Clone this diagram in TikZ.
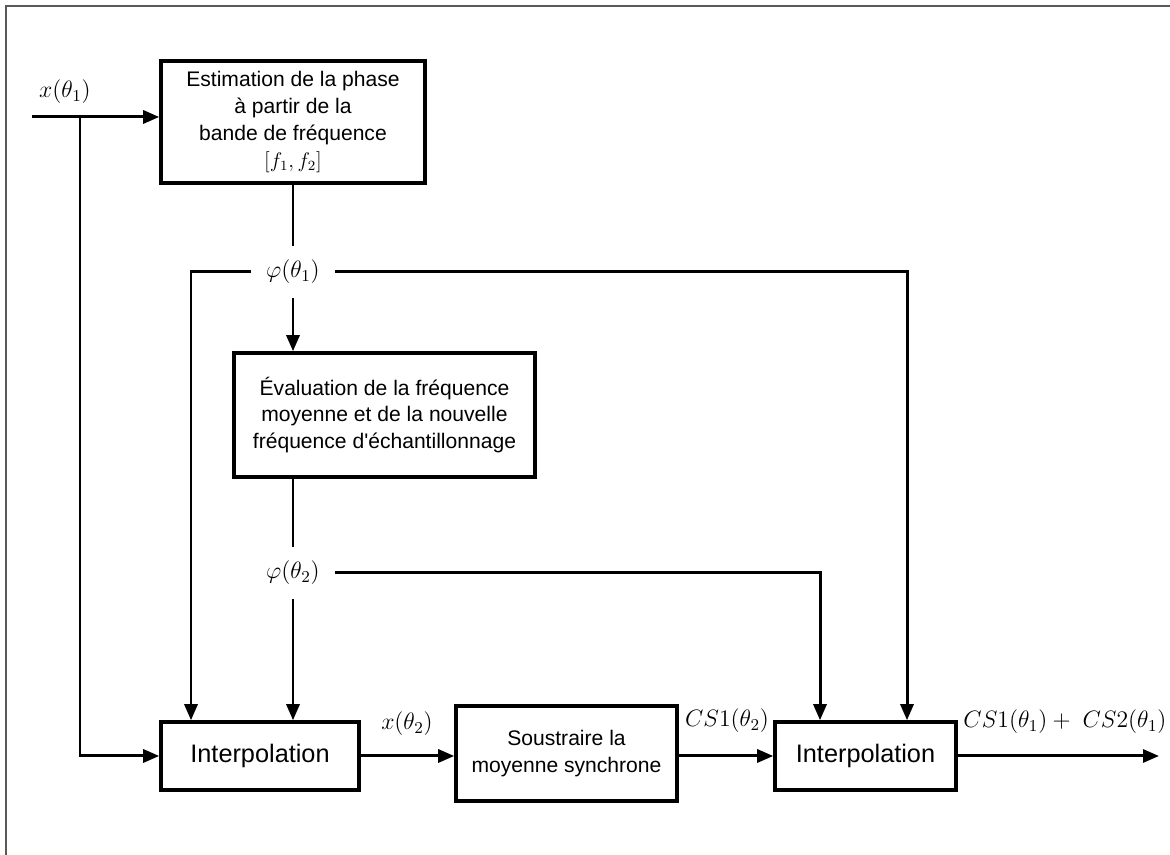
\documentclass[tikz,border=0pt]{standalone}
\usepackage{fix-cm}
\usepackage[no-math]{fontspec}
\setmainfont{Liberation Sans}
\usetikzlibrary{arrows.meta}
\begin{document}
\begin{tikzpicture}[x=1cm, y=1cm,
    block/.style={draw, line width=2pt, align=center, inner sep=0pt, font=\fontsize{12}{15.3}\selectfont},
    interp/.style={block, font=\fontsize{14.4}{17}\selectfont},
    sig/.style={inner sep=0pt, font=\fontsize{13.5}{16}\selectfont},
    phase/.style={inner xsep=0.3cm, inner ysep=0.28cm, font=\fontsize{13.5}{16}\selectfont},
    wire/.style={line width=1.7pt},
    arr/.style={wire, -{Triangle[length=3.2mm, width=2.6mm]}}]
    \useasboundingbox (0,0) rectangle (23.4,17.1);
    \draw[gray!70!black, line width=0.6pt] (0.12,0) -- (0.12,16.98) -- (23.4,16.98);
    \node[block, minimum width=5.28cm, minimum height=2.44cm] (estim) at (5.86,14.66)
        {Estimation de la phase\\ à partir de la\\ bande de fréquence\\ $[f_1,f_2]$};
    \node[block, minimum width=6.02cm, minimum height=2.48cm] (evalf) at (7.69,8.8)
        {Évaluation de la fréquence\\ moyenne et de la nouvelle\\ fréquence d\textquotesingle échantillonnage};
    \node[interp, minimum width=3.96cm, minimum height=1.36cm] (interpA) at (5.2,1.98) {Interpolation};
    \node[block, minimum width=4.42cm, minimum height=1.9cm] (soustr) at (11.33,2.03)
        {Soustraire la\\ moyenne synchrone};
    \node[interp, minimum width=3.62cm, minimum height=1.36cm] (interpB) at (17.31,1.98) {Interpolation};
    \node[phase] (phiA) at (5.86,11.66) {$\varphi(\theta_1)$};
    \node[phase] (phiB) at (5.86,5.64) {$\varphi(\theta_2)$};
    \node[sig] (lblxA) at (1.3,15.26) {$x(\theta_1)$};
    \node[sig] (lblxB) at (8.14,2.62) {$x(\theta_2)$};
    \node[sig] (lblcs) at (14.54,2.68) {$CS1(\theta_2)$};
    \node[sig] (lblout) at (21.3,2.66) {$CS1(\theta_1)+\ CS2(\theta_1)$};
    \coordinate (in) at (0.64,14.76);
    \coordinate (split) at (1.6,14.76);
    \coordinate (dropA) at (3.82,0);
    \coordinate (dropB) at (16.4,0);
    \coordinate (dropC) at (18.14,0);
    \coordinate (out) at (23.18,1.98);
    \draw[arr] (in) -- (estim.west |- in);
    \draw[arr] (split) |- (interpA.west);
    \draw[wire] (estim.south -| phiA) -- (phiA.north);
    \draw[arr] (phiA.south) -- (evalf.north -| phiA);
    \draw[arr] (phiA.west) -| (dropA |- interpA.north);
    \draw[arr] (phiA.east) -| (dropC |- interpB.north);
    \draw[wire] (evalf.south -| phiB) -- (phiB.north);
    \draw[arr] (phiB.south) -- (interpA.north -| phiB);
    \draw[arr] (phiB.east) -| (dropB |- interpB.north);
    \draw[arr] (interpA.east) -- (soustr.west |- interpA.east);
    \draw[arr] (soustr.east |- interpB.west) -- (interpB.west);
    \draw[arr] (interpB.east) -- (out);
\end{tikzpicture}
\end{document}
